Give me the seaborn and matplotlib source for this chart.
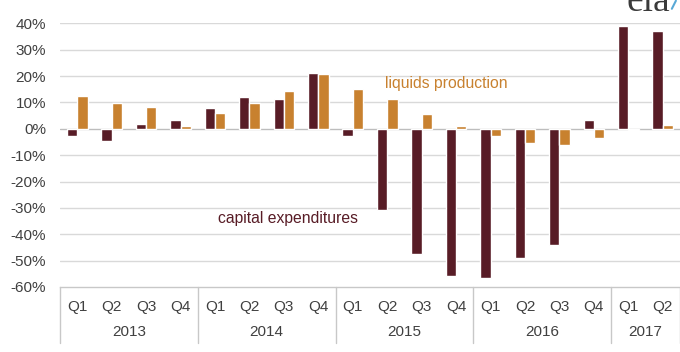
import pandas as pd
import matplotlib.pyplot as plt
import matplotlib.transforms as mtransforms
from matplotlib.lines import Line2D
import seaborn as sns

# data (percent change, year over year)
years = ['2013', '2014', '2015', '2016', '2017']
quarters_per_year = [4, 4, 4, 4, 2]
capex = [-2.8, -4.6, 1.9, 3.4, 7.9, 12.0, 11.2, 21.3, -2.7, -30.9, -47.5, -55.8,
         -56.6, -48.9, -44.2, 3.4, 39.0, 37.1]
liquids = [12.6, 9.9, 8.4, 1.1, 6.1, 9.8, 14.5, 20.9, 15.2, 11.2, 5.6, 1.0,
           -2.6, -5.5, -6.0, -3.4, -0.5, 1.5]
y_ticks = [-60, -50, -40, -30, -20, -10, 0, 10, 20, 30, 40]

CAPEX_COLOR = '#581c26'
LIQ_COLOR = '#c8812f'
TEXT_COLOR = '#404040'
FS = 11

quarter_labels = []
period_keys = []
for yr, n in zip(years, quarters_per_year):
    for q in range(1, n + 1):
        quarter_labels.append(f'Q{q}')
        period_keys.append(f'{yr} Q{q}')

df = pd.DataFrame({
    'period': period_keys * 2,
    'series': ['capital expenditures'] * len(capex) + ['liquids production'] * len(liquids),
    'value': capex + liquids,
})

sns.set_style('white')
plt.rcParams['font.family'] = ['Liberation Sans', 'DejaVu Sans']

fig = plt.figure(figsize=(6.8, 3.52), dpi=100, facecolor='white')
ax = fig.add_axes([60 / 680, 1 - 287 / 352, 620 / 680, (287 - 23.3) / 352])

sns.barplot(data=df, x='period', y='value', hue='series', order=period_keys,
            palette=[CAPEX_COLOR, LIQ_COLOR], width=0.6, gap=0.0,
            legend=False, ax=ax, saturation=1)

ax.set_xlim(-0.5, len(period_keys) - 0.5)
ax.set_ylim(-60, 40)
ax.set_yticks(y_ticks)
ax.set_yticklabels([f'{v}%' for v in y_ticks])
ax.set_xticks(range(len(period_keys)))
ax.set_xticklabels(quarter_labels)
ax.tick_params(axis='both', length=0, labelsize=FS, labelcolor=TEXT_COLOR)
ax.tick_params(axis='x', pad=9.5)
ax.tick_params(axis='y', pad=10)
ax.set_xlabel('')
ax.set_ylabel('')

# gridlines
for v in y_ticks[1:]:
    ax.axhline(v, color='#d9d9d9' if v != 0 else '#bdbdbd', lw=1, zorder=0)

for s in ['top', 'right', 'left']:
    ax.spines[s].set_visible(False)
ax.spines['bottom'].set_color('#c8c8c8')
ax.spines['bottom'].set_linewidth(1)

# year groups under the quarter labels
trans = mtransforms.blended_transform_factory(ax.transData, ax.transAxes)
start = -0.5
for yr, n in zip(years, quarters_per_year):
    ax.plot([start, start], [0, -0.212], color='#c8c8c8', lw=1,
            transform=trans, clip_on=False)
    ax.text(start + n / 2, -0.172, yr, transform=trans, ha='center', va='center',
            fontsize=FS, color=TEXT_COLOR)
    start += n
ax.plot([start, start], [0, -0.212], color='#c8c8c8', lw=1,
        transform=trans, clip_on=False)

# series labels inside the plot
ax.text(8.95, 17.0, 'liquids production', color=LIQ_COLOR, fontsize=11.3, va='center')
ax.text(4.1, -34.2, 'capital expenditures', color=CAPEX_COLOR, fontsize=11.3, va='center')

# cropped eia logo at the top right
fig.text(0.921, 0.969, 'eia', family='Liberation Serif', fontsize=27,
         color='#3a3a3a', va='baseline')
fig.add_artist(Line2D([0.988, 0.994], [0.975, 0.998], color='#5aa9d6', lw=1.5,
                      transform=fig.transFigure))

plt.savefig('out.png', dpi=100, facecolor='white')
